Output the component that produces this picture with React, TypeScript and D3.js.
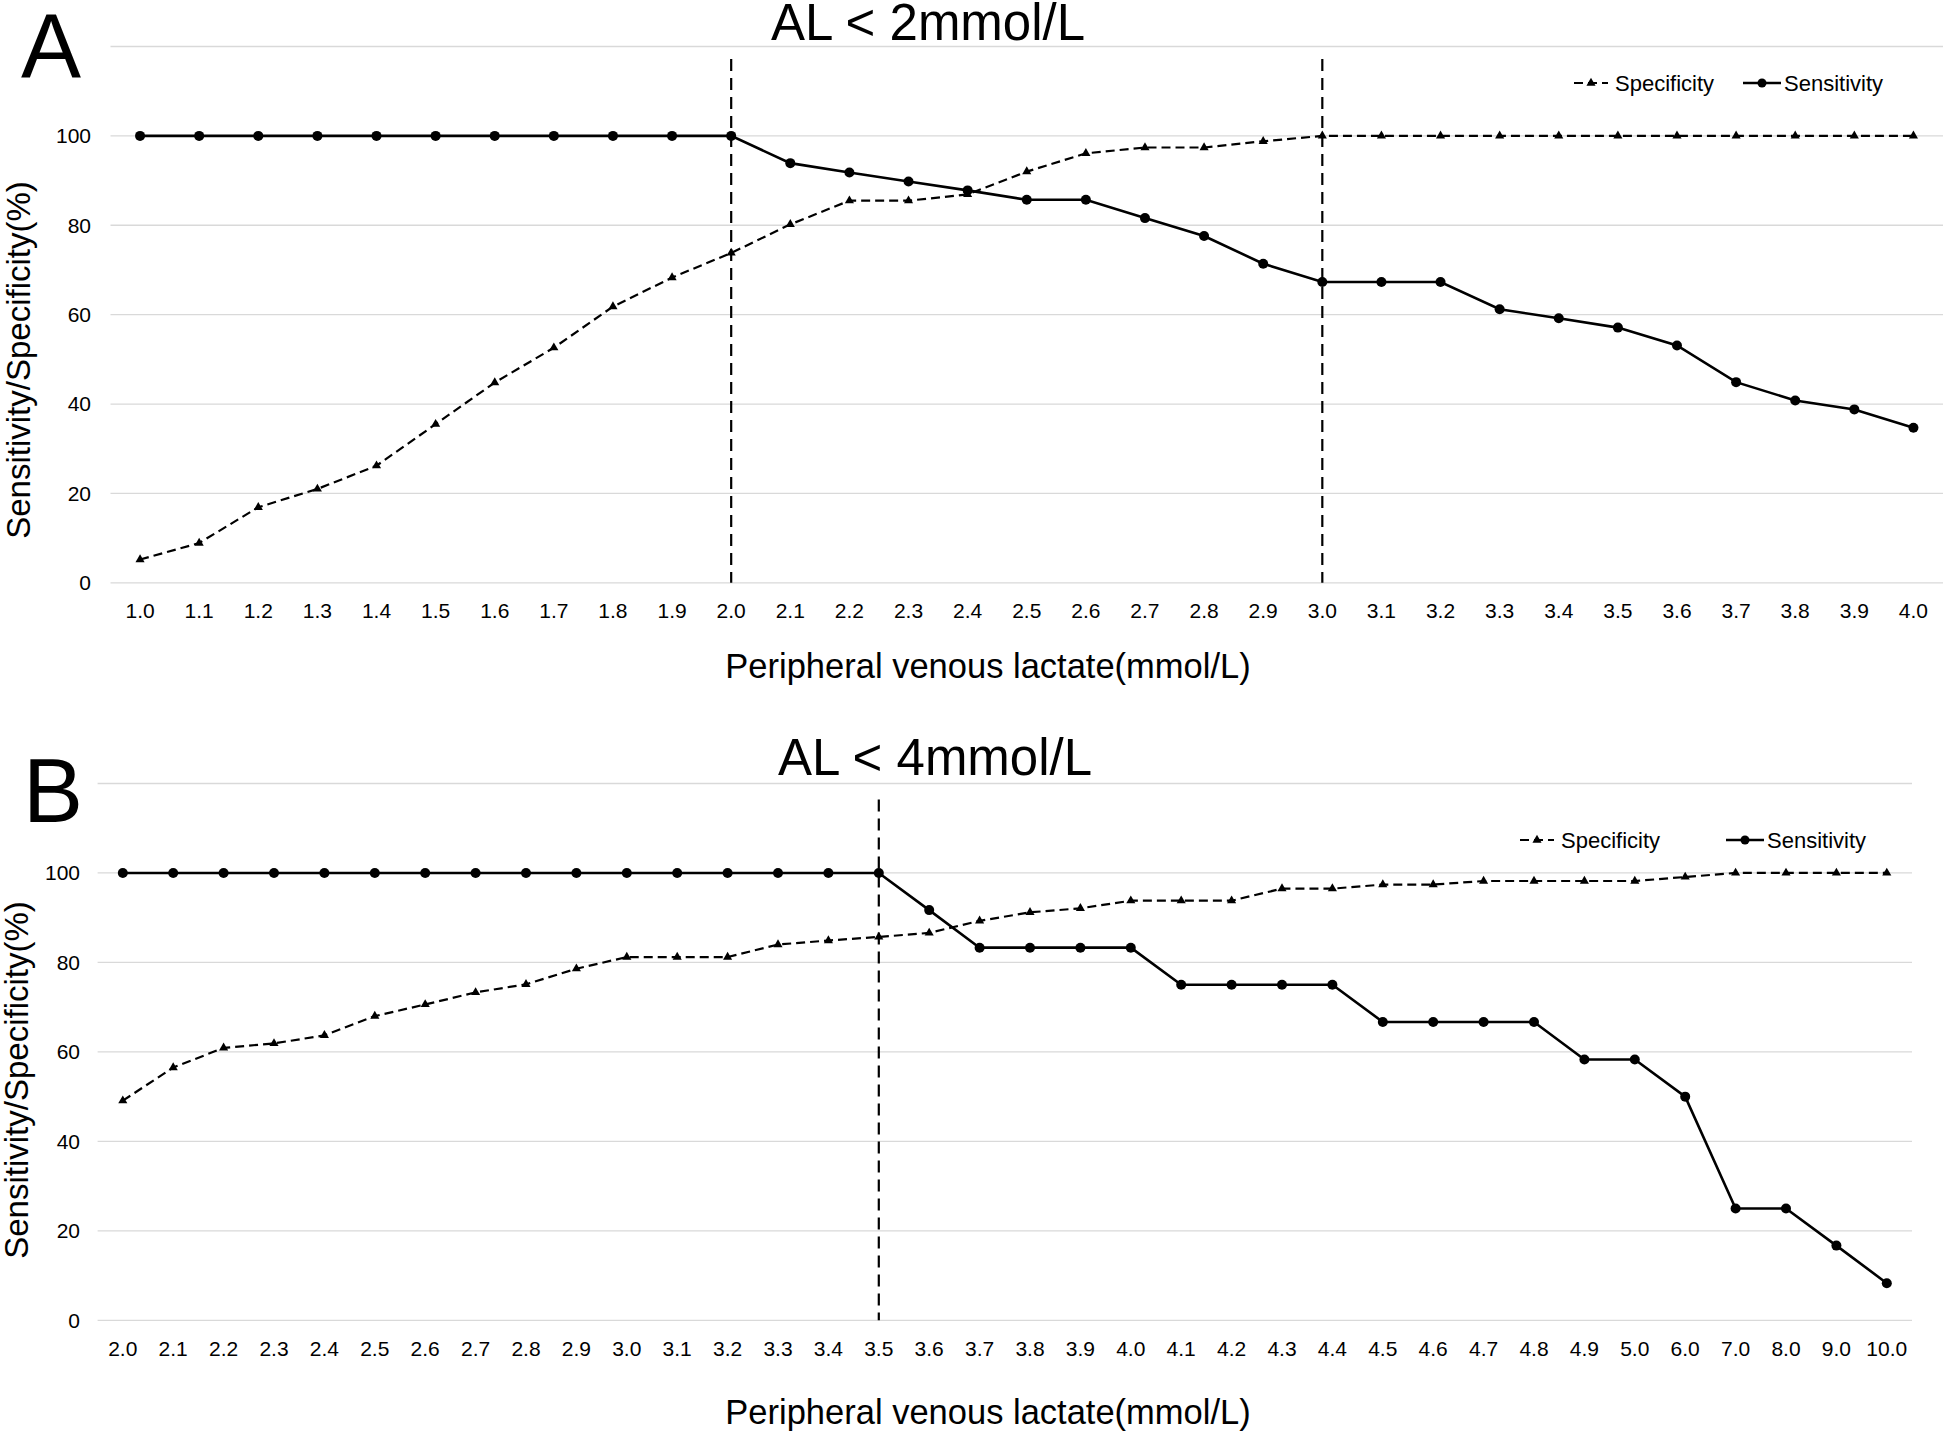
import React from "react";
import * as d3 from "d3";

// ---------- Data ----------
const catsA = ["1.0","1.1","1.2","1.3","1.4","1.5","1.6","1.7","1.8","1.9","2.0","2.1","2.2","2.3","2.4","2.5","2.6","2.7","2.8","2.9","3.0","3.1","3.2","3.3","3.4","3.5","3.6","3.7","3.8","3.9","4.0"];
const specA = [5.2, 8.9, 16.9, 21.0, 26.2, 35.5, 44.8, 52.6, 61.8, 68.3, 73.8, 80.2, 85.5, 85.5, 86.9, 92.0, 96.1, 97.4, 97.4, 98.8, 100, 100, 100, 100, 100, 100, 100, 100, 100, 100, 100];
const sensA = [100, 100, 100, 100, 100, 100, 100, 100, 100, 100, 100, 93.9, 91.8, 89.8, 87.8, 85.7, 85.7, 81.6, 77.6, 71.4, 67.3, 67.3, 67.3, 61.2, 59.2, 57.1, 53.1, 44.9, 40.8, 38.8, 34.7];
const cutoffsA = ["2.0", "3.0"];
const titleA = "AL < 2mmol/L";

const catsB = ["2.0","2.1","2.2","2.3","2.4","2.5","2.6","2.7","2.8","2.9","3.0","3.1","3.2","3.3","3.4","3.5","3.6","3.7","3.8","3.9","4.0","4.1","4.2","4.3","4.4","4.5","4.6","4.7","4.8","4.9","5.0","6.0","7.0","8.0","9.0","10.0"];
const specB = [49.1, 56.5, 60.9, 61.9, 63.7, 68.0, 70.6, 73.3, 75.1, 78.6, 81.2, 81.2, 81.2, 84.0, 84.9, 85.7, 86.6, 89.3, 91.2, 92.1, 93.8, 93.8, 93.8, 96.5, 96.5, 97.4, 97.4, 98.2, 98.2, 98.2, 98.2, 99.1, 100, 100, 100, 100];
const sensB = [100, 100, 100, 100, 100, 100, 100, 100, 100, 100, 100, 100, 100, 100, 100, 100, 91.7, 83.3, 83.3, 83.3, 83.3, 75, 75, 75, 75, 66.7, 66.7, 66.7, 66.7, 58.3, 58.3, 50, 25, 25, 16.7, 8.3];
const cutoffsB = ["3.5"];
const titleB = "AL < 4mmol/L";

const yLabelTicks = [0, 20, 40, 60, 80, 100];
const gridTicks = [0, 20, 40, 60, 80, 100, 120];
const seriesNames = ["Specificity", "Sensitivity"];
const xTitle = "Peripheral venous lactate(mmol/L)";
const yTitle = "Sensitivity/Specificity(%)";

const FONT = "'Liberation Sans', Arial, Helvetica, sans-serif";

type Cfg = {
  letter: string;
  title: string;
  x0: number; x1: number;
  yZero: number; yTop: number;
  cutTop: number;
  letterX: number; letterY: number;
  titleX: number; titleY: number;
  yLabelRight: number;
  xLabelY: number;
  xTitleX: number; xTitleY: number;
  yTitleX: number; yTitleY: number;
  legY: number;
  legSpecX: number; legSensX: number;
};

function Panel({ cats, spec, sens, cutoffs, cfg }: { cats: string[]; spec: number[]; sens: number[]; cutoffs: string[]; cfg: Cfg }) {
  const x = d3.scaleBand<string>().domain(cats).range([cfg.x0, cfg.x1]).padding(0);
  const cx = (c: string) => (x(c) as number) + x.bandwidth() / 2;
  const y = d3.scaleLinear().domain([0, 120]).range([cfg.yZero, cfg.yTop]);
  const line = d3.line<number>().x((_, i) => cx(cats[i])).y((d) => y(d));
  const tri = d3.symbol().type(d3.symbolTriangle).size(36)() as string;

  return (
    <g>
      {gridTicks.map((t) => (
        <line key={"g" + t} x1={cfg.x0} x2={cfg.x1} y1={y(t)} y2={y(t)} stroke="#d9d9d9" strokeWidth={1.3} />
      ))}
      {yLabelTicks.map((t) => (
        <text key={"yl" + t} x={cfg.yLabelRight} y={y(t)} dy="0.35em" textAnchor="end" fontSize={21} fontFamily={FONT} fill="#000">
          {t}
        </text>
      ))}
      {cats.map((c) => (
        <text key={"xl" + c} x={cx(c)} y={cfg.xLabelY} dy="0.35em" textAnchor="middle" fontSize={21} fontFamily={FONT} fill="#000">
          {c}
        </text>
      ))}
      {cutoffs.map((c) => (
        <line key={"cut" + c} x1={cx(c)} x2={cx(c)} y1={cfg.cutTop} y2={cfg.yZero} stroke="#000" strokeWidth={2.2} strokeDasharray="12,7" />
      ))}
      <path d={line(spec) as string} fill="none" stroke="#000" strokeWidth={2.2} strokeDasharray="9,5" />
      {spec.map((v, i) => (
        <path key={"sp" + i} d={tri} transform={`translate(${cx(cats[i])},${y(v)})`} fill="#000" />
      ))}
      <path d={line(sens) as string} fill="none" stroke="#000" strokeWidth={2.6} />
      {sens.map((v, i) => (
        <circle key={"se" + i} cx={cx(cats[i])} cy={y(v)} r={5} fill="#000" />
      ))}
      {/* Legend */}
      <g>
        <line x1={cfg.legSpecX} x2={cfg.legSpecX + 34} y1={cfg.legY} y2={cfg.legY} stroke="#000" strokeWidth={2.2} strokeDasharray="9,5" />
        <path d={tri} transform={`translate(${cfg.legSpecX + 17},${cfg.legY})`} fill="#000" />
        <text x={cfg.legSpecX + 41} y={cfg.legY} dy="0.35em" fontSize={22} fontFamily={FONT} fill="#000">{seriesNames[0]}</text>
        <line x1={cfg.legSensX} x2={cfg.legSensX + 38} y1={cfg.legY} y2={cfg.legY} stroke="#000" strokeWidth={2.6} />
        <circle cx={cfg.legSensX + 19} cy={cfg.legY} r={4.5} fill="#000" />
        <text x={cfg.legSensX + 41} y={cfg.legY} dy="0.35em" fontSize={22} fontFamily={FONT} fill="#000">{seriesNames[1]}</text>
      </g>
      <text x={cfg.letterX} y={cfg.letterY} fontSize={90} fontFamily={FONT} fill="#000">{cfg.letter}</text>
      <text x={cfg.titleX} y={cfg.titleY} textAnchor="middle" fontSize={51} fontFamily={FONT} fill="#000">{cfg.title}</text>
      <text x={cfg.xTitleX} y={cfg.xTitleY} dy="0.35em" textAnchor="middle" fontSize={34.5} fontFamily={FONT} fill="#000">{xTitle}</text>
      <text transform={`translate(${cfg.yTitleX},${cfg.yTitleY}) rotate(-90)`} dy="0.35em" textAnchor="middle" fontSize={33} fontFamily={FONT} fill="#000">{yTitle}</text>
    </g>
  );
}

const cfgA: Cfg = {
  letter: "A", title: titleA,
  x0: 110.5, x1: 1943,
  yZero: 582.8, yTop: 46.5,
  cutTop: 59,
  letterX: 21, letterY: 77,
  titleX: 928, titleY: 39.5,
  yLabelRight: 91,
  xLabelY: 611,
  xTitleX: 988, xTitleY: 666,
  yTitleX: 18, yTitleY: 360,
  legY: 83,
  legSpecX: 1574, legSensX: 1743,
};

const cfgB: Cfg = {
  letter: "B", title: titleB,
  x0: 97.6, x1: 1912,
  yZero: 1320.3, yTop: 783.5,
  cutTop: 799.5,
  letterX: 23, letterY: 822,
  titleX: 935, titleY: 775,
  yLabelRight: 80,
  xLabelY: 1349,
  xTitleX: 988, xTitleY: 1412,
  yTitleX: 16, yTitleY: 1080,
  legY: 840,
  legSpecX: 1520, legSensX: 1726,
};

export default function App() {
  return (
    <div style={{ position: "absolute", left: 0, top: 0, width: 1946, height: 1432, background: "#fff" }}>
      <svg width={1946} height={1432} viewBox="0 0 1946 1432" style={{ display: "block" }}>
        <rect width={1946} height={1432} fill="#fff" />
        <Panel cats={catsA} spec={specA} sens={sensA} cutoffs={cutoffsA} cfg={cfgA} />
        <Panel cats={catsB} spec={specB} sens={sensB} cutoffs={cutoffsB} cfg={cfgB} />
      </svg>
    </div>
  );
}
